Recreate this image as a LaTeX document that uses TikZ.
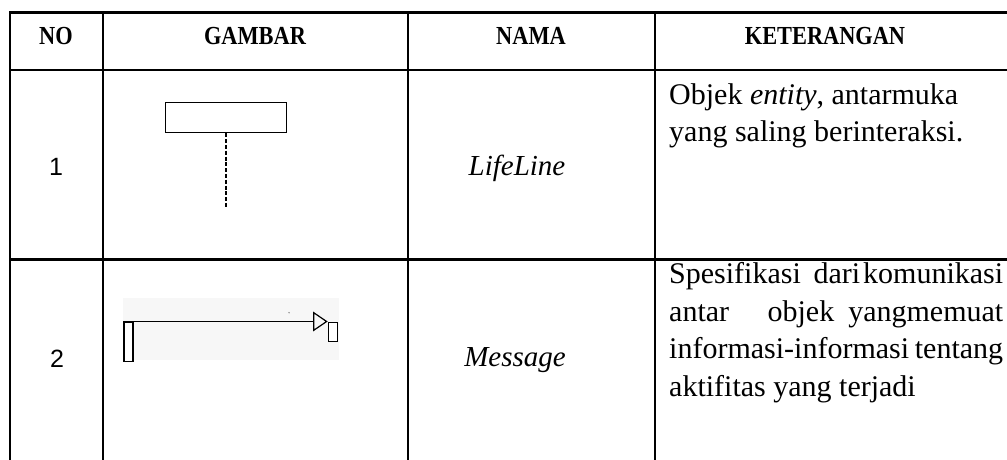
\documentclass[tikz,border=0pt]{standalone}
\usepackage{fontspec}
\setmainfont{Liberation Serif}
\newfontfamily\numfont{Liberation Sans}
\newfontfamily\headfont[FakeStretch=0.86]{Liberation Serif}
\usetikzlibrary{arrows.meta}
\begin{document}
\begin{tikzpicture}[x=1pt,y=-1pt,
  grid/.style={line width=2.2pt,line cap=rect},
  headtext/.style={anchor=base,inner sep=0pt,font=\headfont\fontsize{26}{30}\selectfont\bfseries},
  numtext/.style={anchor=center,inner sep=0pt,font=\numfont\fontsize{25}{28}\selectfont},
  nametext/.style={anchor=base,inner sep=0pt,font=\fontsize{29}{34}\selectfont\itshape},
  desctext/.style={anchor=base west,inner sep=0pt,font=\fontsize{30}{36}\selectfont},
  boxline/.style={draw=black,line width=1.2pt,fill=white,inner sep=0pt,minimum width=#1},
]
\useasboundingbox (0,0) rectangle (1007,460);
\fill[white] (0,0) rectangle (1007,460);

% table rules
\draw[grid] (10,12.5) -- (1007,12.5);
\draw[grid] (10,70) -- (1007,70);
\draw[grid] (10,259.5) -- (1007,259.5);
\foreach \cx in {10,103,408,655}
  \draw[grid] (\cx,12.5) -- (\cx,461);

% header
\node[headtext] (hno)  at (56,45)  {NO};
\node[headtext] (hgam) at (255,45) {GAMBAR};
\node[headtext] (hnam) at (531,45) {NAMA};
\node[headtext] (hket) at (825,45) {KETERANGAN};

% row 1: lifeline
\node[numtext] (n1) at (56,167) {1};
\node[boxline=121pt,minimum height=30pt] (lhead) at (226.2,117.7) {};
\coordinate (lend) at (226.2,207);
\draw[line width=1.6pt,dash pattern=on 4pt off 1.8pt] (lhead.south) -- (lend);
\node[nametext] (nm1) at (517,175) {LifeLine};
\node[desctext] (d1a) at (669,104) {Objek \textit{entity}, antarmuka};
\node[desctext] (d1b) at (669,141) {yang saling berinteraksi.};

% row 2: message
\node[numtext] (n2) at (57,359) {2};
\fill[black!3] (123,298) rectangle (339,360);
\node[boxline=9pt,minimum height=39pt,anchor=north west] (act1) at (123.3,321.5) {};
\node[boxline=9pt,minimum height=19pt,anchor=north west] (act2) at (327.7,321.5) {};
\draw[line width=1.2pt,-{Triangle[open,length=14.5pt,width=19.5pt,line width=1.2pt]}]
  (act1.north west) -- (act2.north west);
\fill[black!45] (289,312.7) circle (0.8pt);
\node[nametext] (nm2) at (515,366) {Message};
\node[desctext,text width=334pt] (d2a) at (669,283) {Spesifikasi\hfill dari\hspace{3pt}komunikasi};
\node[desctext,text width=334pt] (d2b) at (669,321) {antar\hfill objek\hspace{14pt}yangmemuat};
\node[desctext,text width=334pt] (d2c) at (669,358.5) {informasi-informasi\hfill tentang};
\node[desctext] (d2d) at (669,396) {aktifitas yang terjadi};
\end{tikzpicture}
\end{document}
